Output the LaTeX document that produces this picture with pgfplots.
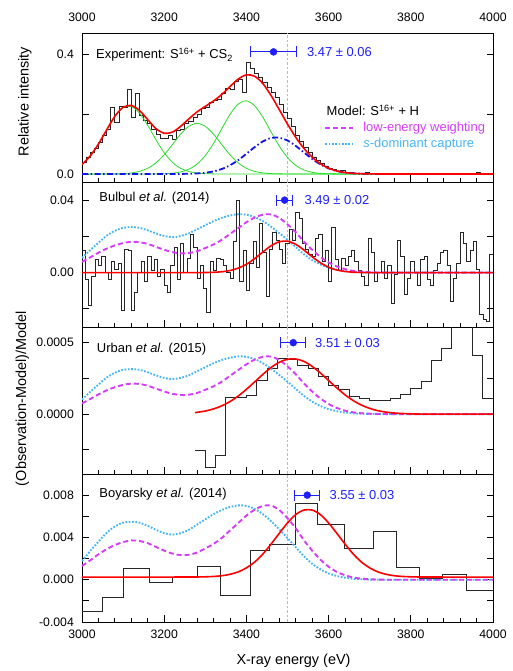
\documentclass[border=0pt]{standalone}
\usepackage{fontspec}
\setmainfont{Liberation Sans}
\usepackage{pgfplots}
\usepackage{pgfplotstable}
\pgfplotsset{compat=1.18}

\definecolor{fitred}{RGB}{255,0,0}
\definecolor{compgreen}{RGB}{40,220,40}
\definecolor{compblue}{RGB}{20,20,230}
\definecolor{lewmag}{RGB}{214,60,250}
\definecolor{sdcyan}{RGB}{70,180,250}
\definecolor{annblue}{RGB}{30,30,255}
\definecolor{refgray}{RGB}{185,185,185}

% experiment fit: components and total
\pgfplotstableread{
E G1 G2 G3 B R
3000 0.0318 0 0 0 0.0318
3020 0.0600 0 0 0 0.0600
3040 0.1000 0 0 0 0.1000
3060 0.1470 0 0 0 0.1470
3080 0.1920 0.0004 0 0 0.1924
3100 0.2210 0.0013 0 0 0.2223
3120 0.2250 0.0035 0 0 0.2285
3140 0.2030 0.0087 0 0 0.2117
3160 0.1620 0.0191 0 0 0.1811
3180 0.1140 0.0372 0 0 0.1512
3200 0.0708 0.0642 0.0009 0 0.1359
3220 0.0390 0.0980 0.0026 0 0.1396
3240 0.0190 0.1327 0.0068 0.0003 0.1588
3260 0.0082 0.1590 0.0158 0.0007 0.1837
3280 0.0031 0.1690 0.0330 0.0018 0.2069
3300 0.0010 0.1590 0.0614 0.0041 0.2255
3320 0.0003 0.1327 0.1018 0.0086 0.2434
3340 0 0.0980 0.1505 0.0165 0.2650
3360 0 0.0642 0.1983 0.0289 0.2914
3380 0 0.0372 0.2329 0.0462 0.3163
3400 0 0.0191 0.2439 0.0673 0.3303
3420 0 0.0087 0.2276 0.0895 0.3258
3440 0 0.0035 0.1894 0.1085 0.3014
3460 0 0.0013 0.1405 0.1200 0.2618
3480 0 0.0004 0.0929 0.1211 0.2144
3500 0 0.0001 0.0548 0.1115 0.1664
3520 0 0 0.0288 0.0936 0.1224
3540 0 0 0.0135 0.0718 0.0853
3560 0 0 0.0056 0.0502 0.0558
3580 0 0 0.0021 0.0320 0.0341
3600 0 0 0.0007 0.0186 0.0193
3620 0 0 0.0002 0.0099 0.0101
3640 0 0 0 0.0048 0.0048
3660 0 0 0 0.0021 0.0021
3680 0 0 0 0.0009 0.0009
3700 0 0 0 0.0003 0.0003
3720 0 0 0 0.0001 0.0001
3740 0 0 0 0 0
3800 0 0 0 0 0
3900 0 0 0 0 0
4000 0 0 0 0 0
}\comps

% model shapes, normalised to peak 1
\pgfplotstableread{
E S M
3000 0.250 0.185
3020 0.385 0.260
3040 0.510 0.340
3060 0.630 0.410
3080 0.715 0.465
3100 0.765 0.505
3120 0.778 0.527
3140 0.765 0.520
3160 0.722 0.490
3180 0.670 0.440
3200 0.625 0.390
3220 0.605 0.350
3240 0.625 0.330
3260 0.670 0.335
3280 0.740 0.365
3300 0.810 0.420
3320 0.880 0.480
3340 0.935 0.560
3360 0.975 0.660
3380 0.997 0.760
3400 0.990 0.860
3420 0.950 0.940
3440 0.880 0.990
3460 0.785 0.995
3480 0.675 0.935
3500 0.560 0.825
3520 0.435 0.690
3540 0.315 0.530
3560 0.215 0.390
3580 0.140 0.270
3600 0.085 0.175
3620 0.050 0.105
3640 0.027 0.060
3660 0.013 0.030
3680 0.006 0.014
3700 0.002 0.006
3720 0.000 0.002
3740 0.000 0.000
3800 0 0
3900 0 0
4000 0 0
}\models

\pgfplotsset{
  panel/.style={
    scale only axis, width=411bp,
    xmin=3000, xmax=4000,
    xtick={3000,3200,...,4000}, minor x tick num=4,
    tick align=inside, xtick pos=left, ytick pos=both,
    xticklabels={}, scaled ticks=false,
    major tick length=6.5bp, minor tick length=3.5bp,
    tick style={black, line width=0.8bp},
    axis line style={line width=0.9bp},
    tick label style={font=\fontsize{12.3}{14}\selectfont},
    yticklabel style={xshift=-4.6bp},
  },
  hist/.style={const plot, black!85, line width=0.9bp, mark=none},
  fit/.style={fitred, line width=1.6bp, smooth, mark=none},
  lew/.style={lewmag, line width=1.9bp, dash pattern=on 5bp off 3bp, smooth, mark=none},
  sdc/.style={sdcyan, line width=1.9bp, dash pattern=on 1.7bp off 1.6bp, smooth, mark=none},
  pt/.style={annblue, only marks, mark=*, mark size=3.5bp, mark options={fill=annblue},
    error bars/.cd, x dir=both, x explicit,
    error bar style={line width=1bp, annblue},
    error mark options={rotate=90, mark size=5.5bp, line width=1bp, annblue}},
}
\tikzset{lab/.style={anchor=west, inner sep=0pt, font=\fontsize{13}{15}\selectfont}}

\newcommand{\refline}{\draw[refgray, line width=1bp, dash pattern=on 2.5bp off 2bp]
  ({axis cs:3500,0}|-{rel axis cs:0,0}) -- ({axis cs:3500,0}|-{rel axis cs:0,1});}

\begin{document}
\begin{tikzpicture}
\useasboundingbox (0bp,0bp) rectangle (513bp,671bp);

% ---------------- panel 1: experiment
\begin{axis}[panel, at={(82bp,489bp)}, anchor=south west, height=149bp,
  ymin=-0.0267, ymax=0.47, ytick={0,0.2,0.4}, yticklabels={0.0,,0.4},
  xticklabel pos=right, xticklabels={3000,3200,3400,3600,3800,4000},
  xticklabel style={yshift=8bp}]
\refline
\addplot[hist] coordinates {
(3000,0.040) (3010,0.055) (3020,0.072) (3030,0.085) (3040,0.105) (3050,0.128)
(3060,0.150) (3070,0.222) (3080,0.172) (3090,0.225) (3100,0.222) (3110,0.283)
(3120,0.190) (3130,0.268) (3140,0.195) (3150,0.180) (3160,0.168) (3170,0.150)
(3180,0.132) (3190,0.118) (3200,0.120) (3210,0.128) (3220,0.116) (3230,0.145)
(3240,0.150) (3250,0.168) (3260,0.175) (3270,0.190) (3280,0.200) (3290,0.218)
(3300,0.222) (3310,0.240) (3320,0.245) (3330,0.250) (3340,0.270) (3350,0.285)
(3360,0.282) (3370,0.310) (3380,0.315) (3390,0.272) (3400,0.372) (3410,0.352)
(3420,0.335) (3430,0.322) (3440,0.305) (3450,0.290) (3460,0.272) (3470,0.255)
(3480,0.232) (3490,0.205) (3500,0.185) (3510,0.158) (3520,0.130) (3530,0.108)
(3540,0.090) (3550,0.072) (3560,0.055) (3570,0.045) (3580,0.035) (3590,0.025)
(3600,0.018) (3610,0.014) (3620,0.010) (3630,0.011) (3640,0.006) (3650,0.004)
(3660,0.003) (3670,0.002) (3680,0.001) (3690,0.004) (3700,0.002) (3710,0.001)
(3720,0.000) (3730,0.002) (3740,0.001) (3750,0.000) (3760,0.001) (3770,0.002)
(3780,0.000) (3790,0.001) (3800,0.002) (3810,0.000) (3820,0.003) (3830,0.001)
(3840,0.000) (3850,0.001) (3860,0.000) (3870,0.002) (3880,0.001) (3890,0.000)
(3900,0.002) (3910,0.001) (3920,0.003) (3930,0.001) (3940,0.000) (3950,0.002)
(3960,0.004) (3970,0.001) (3980,0.000) (3990,0.001) (4000,0.001)};
\addplot[compgreen, line width=0.8bp, smooth] table[x=E, y=G1] {\comps};
\addplot[compgreen, line width=0.8bp, smooth] table[x=E, y=G2] {\comps};
\addplot[compgreen, line width=0.8bp, smooth] table[x=E, y=G3] {\comps};
\addplot[compblue, line width=1.8bp, smooth, dash pattern=on 6bp off 2.5bp on 1.5bp off 2.5bp] table[x=E, y=B] {\comps};
\addplot[fit] table[x=E, y=R] {\comps};
\addplot[pt] coordinates {(3466,0.407) +- (56,0)};
\node[lab] at (axis cs:3034,0.397) {Experiment: S\textsuperscript{16+} + CS\textsubscript{2}};
\node[lab, text=annblue] at (axis cs:3547,0.407) {3.47 ± 0.06};
% model legend
\node[lab] at (axis cs:3595,0.213) {Model: S\textsuperscript{16+} + H};
\draw[lewmag, line width=1.9bp, dash pattern=on 5bp off 3bp] (axis cs:3592,0.152) -- (axis cs:3659,0.152);
\node[lab, text=lewmag] at (axis cs:3684,0.152) {low-energy weighting};
\draw[sdcyan, line width=1.9bp, dash pattern=on 1.7bp off 1.6bp] (axis cs:3592,0.099) -- (axis cs:3659,0.099);
\node[lab, text=sdcyan] at (axis cs:3684,0.099) {\textit{s}-dominant capture};
\end{axis}

% ---------------- panel 2: Bulbul et al. (2014)
\begin{axis}[panel, at={(82bp,344bp)}, anchor=south west, height=145bp,
  ymin=-0.03, ymax=0.05, ytick={-0.02,0,0.02,0.04}, yticklabels={,0.00,,0.04}]
\refline
\addplot[hist] coordinates {
(3000,0.012) (3008,-0.004) (3016,-0.018) (3024,-0.002) (3032,0.007) (3040,0.004)
(3048,0.009) (3056,0.000) (3064,-0.004) (3072,0.006) (3080,0.002) (3088,0.005)
(3096,-0.021) (3104,0.013) (3112,0.012) (3120,-0.021) (3128,-0.011) (3136,0.000)
(3144,0.006) (3152,-0.005) (3160,0.009) (3168,0.001) (3176,0.007) (3184,-0.002)
(3192,0.002) (3200,-0.007) (3208,-0.011) (3216,0.004) (3224,0.014) (3232,-0.004)
(3240,0.016) (3248,0.000) (3256,0.008) (3264,0.021) (3272,0.014) (3280,-0.003)
(3288,0.004) (3296,-0.009) (3304,-0.022) (3312,0.006) (3320,0.001) (3328,0.008)
(3336,0.007) (3344,0.004) (3352,0.000) (3360,-0.003) (3368,0.017) (3376,0.040)
(3384,-0.005) (3392,0.012) (3400,-0.010) (3408,0.005) (3416,0.017) (3424,0.003)
(3432,0.027) (3440,0.011) (3448,-0.013) (3456,0.013) (3464,0.022) (3472,0.018)
(3480,0.013) (3488,0.005) (3496,0.016) (3504,0.024) (3512,0.018) (3520,0.033)
(3528,0.030) (3536,0.016) (3544,0.013) (3552,0.010) (3560,0.009) (3568,0.019)
(3576,0.021) (3584,0.006) (3592,0.012) (3600,-0.005) (3608,0.025) (3616,0.007)
(3624,0.001) (3632,0.008) (3640,0.004) (3648,0.009) (3656,0.012) (3664,0.006)
(3672,0.001) (3680,-0.002) (3688,-0.007) (3696,0.019) (3704,0.011) (3712,-0.005)
(3720,0.000) (3728,0.006) (3736,-0.003) (3744,0.004) (3752,-0.017) (3760,-0.001)
(3768,0.018) (3776,0.009) (3784,-0.012) (3792,-0.003) (3800,0.006) (3808,0.000)
(3816,-0.007) (3824,0.007) (3832,0.009) (3840,-0.004) (3848,-0.007) (3856,0.001)
(3864,0.005) (3872,0.011) (3880,0.012) (3888,0.004) (3896,-0.016) (3904,-0.003)
(3912,0.005) (3920,0.022) (3928,0.016) (3936,0.006) (3944,0.012) (3952,0.017)
(3960,0.002) (3968,-0.023) (3976,-0.026) (3984,-0.027) (3992,0.010) (4000,0.010)};
\addplot[sdc] table[x=E, y expr=\thisrow{S}*0.0323] {\models};
\addplot[lew] table[x=E, y expr=\thisrow{M}*0.0323] {\models};
\addplot[fit] coordinates {
(3000,0) (3100,0) (3200,0) (3280,0) (3300,0.00006) (3320,0.00018) (3340,0.00048)
(3360,0.00115) (3380,0.00245) (3400,0.00462) (3420,0.00771) (3440,0.01136)
(3460,0.0148) (3480,0.01705) (3500,0.01737) (3520,0.01565) (3540,0.01246)
(3560,0.00877) (3580,0.00546) (3600,0.0030) (3620,0.00146) (3640,0.00063)
(3660,0.00024) (3680,0.00008) (3700,0.00002) (3720,0) (3800,0) (3900,0) (4000,0)};
\addplot[pt] coordinates {(3493,0.040) +- (20,0)};
\node[lab] at (axis cs:3042,0.0413) {Bulbul \textit{et al.} (2014)};
\node[lab, text=annblue] at (axis cs:3541,0.040) {3.49 ± 0.02};
\end{axis}

% ---------------- panel 3: Urban et al. (2015)
\begin{axis}[panel, at={(82bp,197bp)}, anchor=south west, height=147bp,
  ymin=-0.00042, ymax=0.00061, ytick={-0.00025,0,0.00025,0.0005},
  yticklabels={,0.0000,,0.0005}]
\refline
\addplot[hist] coordinates {
(3275,-0.000256) (3300,-0.000372) (3325,-0.000291) (3350,0.000116) (3375,0.000118)
(3400,0.000128) (3425,0.000233) (3450,0.000321) (3475,0.000391) (3500,0.000386)
(3525,0.000344) (3550,0.000321) (3575,0.000263) (3600,0.000198) (3625,0.000170)
(3650,0.000123) (3675,0.000107) (3700,0.000093) (3725,0.000093) (3750,0.000107)
(3775,0.000135) (3800,0.000181) (3825,0.000228) (3850,0.000379) (3875,0.000460)
(3900,0.000800) (3925,0.000800) (3950,0.000414) (3975,0.000112) (4000,0.000112)};
\addplot[sdc] table[x=E, y expr=\thisrow{S}*0.000405] {\models};
\addplot[lew] table[x=E, y expr=\thisrow{M}*0.000405] {\models};
\addplot[fit] coordinates {
(3275,0.0000100) (3300,0.0000213) (3320,0.0000359) (3340,0.0000575) (3360,0.0000874)
(3380,0.000126) (3400,0.000173) (3420,0.000225) (3440,0.000278) (3460,0.000326)
(3480,0.000363) (3500,0.000384) (3520,0.000386) (3540,0.000369) (3560,0.000334)
(3580,0.000288) (3600,0.000235) (3620,0.000183) (3640,0.000135) (3660,0.0000943)
(3680,0.0000627) (3700,0.0000396) (3720,0.0000237) (3740,0.0000135) (3760,0.0000073)
(3780,0.0000037) (3800,0.0000018) (3820,0) (3900,0) (4000,0)};
\addplot[pt] coordinates {(3514,0.0005) +- (30,0)};
\node[lab] at (axis cs:3036,0.000454) {Urban \textit{et al.} (2015)};
\node[lab, text=annblue] at (axis cs:3567,0.0005) {3.51 ± 0.03};
\end{axis}

% ---------------- panel 4: Boyarsky et al. (2014)
\begin{axis}[panel, at={(82bp,49bp)}, anchor=south west, height=148bp,
  ymin=-0.004, ymax=0.010,
  ytick={-0.004,-0.002,0,0.002,0.004,0.006,0.008},
  yticklabels={-0.004,,0.000,,0.004,,0.008},
  xticklabels={3000,3200,3400,3600,3800,4000},
  xticklabel style={yshift=-4.6bp}]
\refline
\addplot[hist] coordinates {
(3000,-0.0030) (3049,-0.00164) (3102,0.00108) (3163,-0.00022) (3219,0.00025)
(3282,0.00123) (3337,-0.00149) (3410,0.00275) (3455,0.00338) (3520,0.00721)
(3574,0.00519) (3639,0.00300) (3708,0.00459) (3766,0.00117) (3820,0.00009)
(3878,0.00047) (3935,-0.00104) (4000,-0.00104)};
\addplot[sdc] table[x=E, y expr=\thisrow{S}*0.00705] {\models};
\addplot[lew] table[x=E, y expr=\thisrow{M}*0.00705] {\models};
\addplot[fit] coordinates {
(3000,0.00025) (3100,0.00025) (3200,0.00025) (3280,0.00026) (3300,0.000275)
(3320,0.000308) (3340,0.000377) (3360,0.000509) (3380,0.00074) (3400,0.00112)
(3420,0.00167) (3440,0.00243) (3460,0.00337) (3480,0.00439) (3500,0.00537)
(3520,0.00616) (3540,0.00659) (3560,0.00659) (3580,0.00616) (3600,0.00537)
(3620,0.00439) (3640,0.00337) (3660,0.00243) (3680,0.00167) (3700,0.00112)
(3720,0.00074) (3740,0.000509) (3760,0.000377) (3780,0.000308) (3800,0.000275)
(3820,0.00026) (3900,0.00025) (4000,0.00025)};
\addplot[pt] coordinates {(3548,0.008) +- (30,0)};
\node[lab] at (axis cs:3042,0.00813) {Boyarsky \textit{et al.} (2014)};
\node[lab, text=annblue] at (axis cs:3602,0.008) {3.55 ± 0.03};
\end{axis}

% axis titles
\node[rotate=90, anchor=base, font=\fontsize{14.5}{16}\selectfont] at (28.5bp,569.5bp) {Relative intensity};
\node[rotate=90, anchor=base, font=\fontsize{14.5}{16}\selectfont] at (26bp,272.5bp) {(Observation-Model)/Model};
\node[font=\fontsize{14.5}{16}\selectfont] at (293.5bp,10bp) {X-ray energy (eV)};
\end{tikzpicture}
\end{document}
